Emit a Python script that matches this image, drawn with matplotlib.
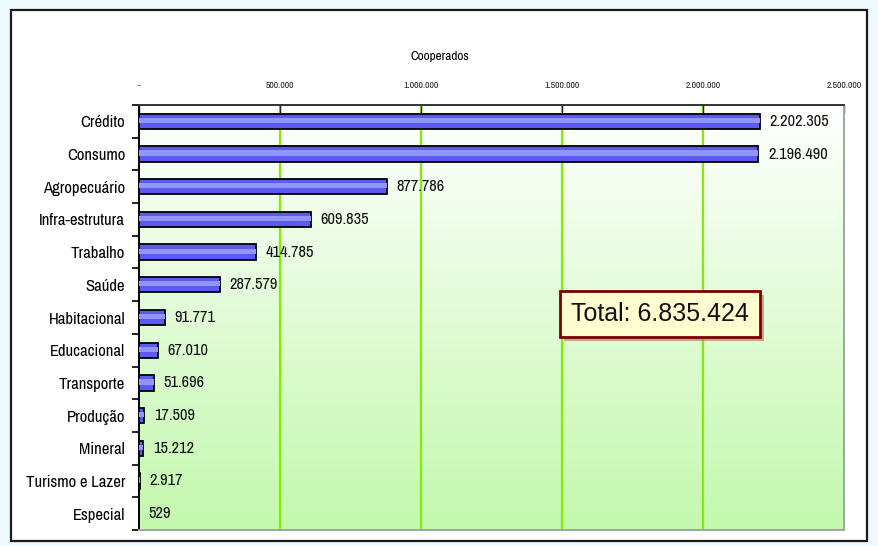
import numpy as np
import matplotlib
matplotlib.use("Agg")
from matplotlib import pyplot as plt
from matplotlib import font_manager
from matplotlib import patheffects as pe
from matplotlib.patches import Rectangle

# Number of cooperative members per sector
categorias = ["Crédito", "Consumo", "Agropecuário", "Infra-estrutura", "Trabalho",
              "Saúde", "Habitacional", "Educacional", "Transporte", "Produção",
              "Mineral", "Turismo e Lazer", "Especial"]
cooperados = [2202305, 2196490, 877786, 609835, 414785, 287579, 91771,
              67010, 51696, 17509, 15212, 2917, 529]
ticks_x = [0, 500000, 1000000, 1500000, 2000000, 2500000]


def fmt_br(v):
    # Brazilian thousands separator
    return f"{v:,}".replace(",", ".")


# pick a narrow face if one is installed
names = sorted({(f.name, f.stretch) for f in font_manager.fontManager.ttflist})
narrow = "DejaVu Sans"
stretch = "normal"
for n, s in names:
    if "Narrow" in n or "Condensed" in n:
        narrow, stretch = n, "normal"
        break
else:
    for n, s in names:
        if n == "DejaVu Sans" and s not in ("normal", 500):
            stretch = "condensed"
            break
plt.rcParams["font.family"] = ["Liberation Sans", "DejaVu Sans"]
nf = dict(family=narrow, fontstretch=stretch)

fig = plt.figure(figsize=(8.79, 5.46), dpi=100)
fig.patch.set_facecolor("#eef9fd")

# white outer frame with black border
frame = Rectangle((11 / 879, 1 - 541 / 546), 856 / 879, 531 / 546,
                  transform=fig.transFigure, facecolor="white",
                  edgecolor="#1a1a1a", linewidth=1.6, zorder=-10)
fig.patches.append(frame)

ax = fig.add_axes([139 / 879, 1 - 530 / 546, 705 / 879, 425 / 546])
y = np.arange(len(categorias))
xmax = ticks_x[-1]

ax.set_xlim(0, xmax)
ax.set_ylim(len(categorias) - 0.5, -0.5)

# gradient background, white at the top to light green at the bottom
grad = np.linspace(0, 1, 256).reshape(-1, 1)
top = np.array([1.0, 1.0, 1.0])
bot = np.array([0xc3, 0xf8, 0xad]) / 255
img = top + (bot - top) * grad[..., None]
ax.imshow(img, extent=[0, xmax, len(categorias) - 0.5, -0.5], aspect="auto", zorder=0)

for t in ticks_x[1:-1]:
    ax.axvline(t, color="#7fee00", linewidth=1.6, zorder=1)

# bars with a lighter stripe in the middle
ax.barh(y, cooperados, height=0.47, color="#5b5bf2", edgecolor="black",
        linewidth=1.3, zorder=3)
ax.barh(y - 0.03, cooperados, height=0.16, color="#9494ff", linewidth=0, zorder=4)

for yi, v in zip(y, cooperados):
    ax.annotate(fmt_br(v), xy=(v, yi), xytext=(7, 0), textcoords="offset points",
                va="center", ha="left", fontsize=11.8, fontweight="bold",
                color="#111111", zorder=5, **nf)

# top axis
ax.xaxis.tick_top()
ax.set_xticks(ticks_x)
ax.set_xticklabels(["-"] + [fmt_br(t) for t in ticks_x[1:]], fontsize=7,
                   fontweight="bold", **nf)
ax.tick_params(axis="x", direction="in", length=6, width=1, pad=11, colors="#222222")

ax.set_yticks(y)
ax.set_yticklabels(categorias, fontsize=12, fontweight="bold", **nf)
ax.set_yticks(np.arange(len(categorias) + 1) - 0.5, minor=True)
ax.tick_params(axis="y", which="major", length=0, pad=10)
ax.tick_params(axis="y", which="minor", length=5, width=1.2, direction="out")

ax.spines["top"].set_color("#333333")
ax.spines["top"].set_linewidth(1.4)
ax.spines["left"].set_color("black")
ax.spines["left"].set_linewidth(1.4)
for side in ("right", "bottom"):
    ax.spines[side].set_color("#9aa8a0")
    ax.spines[side].set_linewidth(1.4)

fig.text(0.5, 1 - 57 / 546, "Cooperados", ha="center", va="center",
         fontsize=9.5, fontweight="bold", **nf)

# total box with a drop shadow
total_txt = "Total: " + fmt_br(sum(cooperados))
tb = fig.text(660 / 879, 1 - 314 / 546, total_txt, ha="center", va="center",
              fontsize=18, color="#111111",
              bbox=dict(boxstyle="square,pad=0.45", facecolor="#fdfdd0",
                        edgecolor="#7a0000", linewidth=2))
tb.get_bbox_patch().set_path_effects(
    [pe.SimplePatchShadow(offset=(3, -3), shadow_rgbFace="#b07060", alpha=0.6),
     pe.Normal()])

fig.savefig("out.png", dpi=100, facecolor=fig.get_facecolor())
